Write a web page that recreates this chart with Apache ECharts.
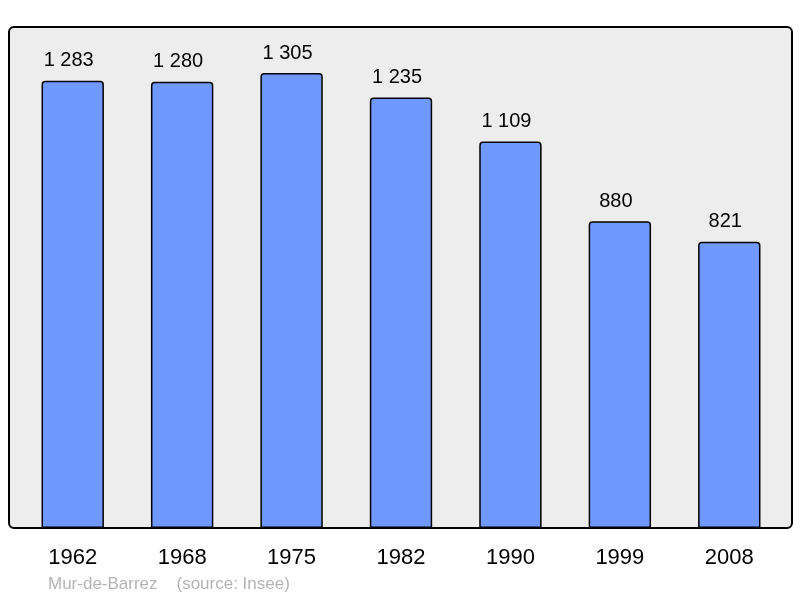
<!DOCTYPE html>
<html lang="fr">
<head>
<meta charset="UTF-8">
<title>Mur-de-Barrez</title>
<script src="https://cdn.jsdelivr.net/npm/echarts@6/dist/echarts.min.js"></script>
<style>
  html, body { margin: 0; padding: 0; background: #fff; }
  #container { width: 800px; height: 598px; }
</style>
</head>
<body>
<div id="container"></div>
<script>
// données
var years = ['1962', '1968', '1975', '1982', '1990', '1999', '2008'];
var population = [1283, 1280, 1305, 1235, 1109, 880, 821];

var chart = echarts.init(document.getElementById('container'));

function fmt(v) {
    return String(v).replace(/\B(?=(\d{3})+(?!\d))/g, ' ');
}

var option = {
    animation: false,
    textStyle: { fontFamily: 'Liberation Sans, Arial, sans-serif' },
    graphic: [
        {
            type: 'rect',
            z: -10,
            shape: { x: 9, y: 27, width: 783, height: 501, r: 5 },
            style: { fill: '#ededed', stroke: '#000', lineWidth: 2 }
        },
        {
            type: 'text',
            left: 48,
            top: 576,
            style: {
                text: 'Mur-de-Barrez    (source: Insee)',
                fill: '#b4b4b4',
                font: '17px Liberation Sans, Arial, sans-serif'
            }
        }
    ],
    grid: { left: 18, right: 16, top: 40, bottom: 70 },
    xAxis: {
        type: 'category',
        data: years,
        axisLine: { show: false },
        axisTick: { show: false },
        axisLabel: { color: '#000', fontSize: 22, margin: 19 }
    },
    yAxis: {
        type: 'value',
        min: 0,
        max: 1400,
        show: false,
        splitLine: { show: false }
    },
    series: [
        {
            type: 'bar',
            data: population,
            barWidth: '57%',
            itemStyle: {
                color: '#7099ff',
                borderColor: '#000',
                borderWidth: 1.5,
                borderRadius: [3, 3, 0, 0]
            },
            label: {
                show: true,
                position: 'top',
                distance: 10,
                offset: [-4, 0],
                color: '#000',
                fontSize: 20,
                formatter: function (p) { return fmt(p.value); }
            }
        }
    ]
};

chart.setOption(option);
</script>
</body>
</html>
